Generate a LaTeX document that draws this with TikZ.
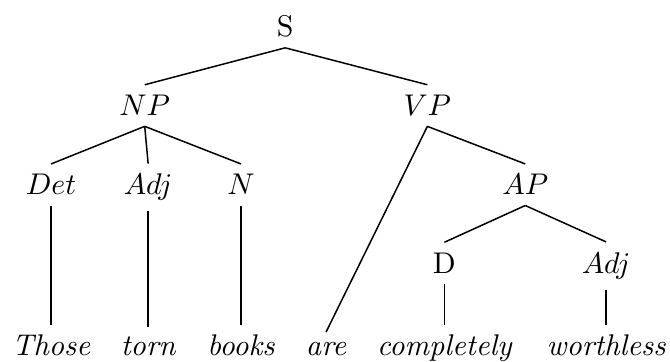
\documentclass[tikz,border=0pt]{standalone}
\usepackage{tikz}
\tikzset{
  cat/.style={anchor=base, inner sep=3.33pt},
  word/.style={anchor=base, inner sep=3.33pt, font=\itshape},
  branch/.style={line width=0.5pt, black},
}
\begin{document}
\begin{tikzpicture}
  \useasboundingbox (0,0) rectangle (7.87,-4.25);
  % Categories
  \node[cat] (s) at (3.35, -0.43) {S};
  \node[cat] (np) at (1.70, -1.36) {$NP$};
  \node[cat] (vp) at (5.02, -1.36) {$VP$};
  \node[cat] (det) at (0.60, -2.29) {$Det$};
  \node[cat] (adjA) at (1.74, -2.29) {$Adj$};
  \node[cat] (n) at (2.83, -2.29) {$N$};
  \node[cat] (ap) at (6.17, -2.29) {$AP$};
  \node[cat] (d) at (5.22, -3.21) {D};
  \node[cat] (adjB) at (7.12, -3.21) {$Adj$};

  % Words
  \node[word] (those) at (0.60, -4.18) {Those};
  \node[word] (torn) at (1.74, -4.18) {torn};
  \node[word] (books) at (2.83, -4.18) {books};
  \node[word] (are) at (3.83, -4.18) {are};
  \node[word] (completely) at (5.22, -4.18) {completely};
  \node[word] (worthless) at (7.12, -4.18) {worthless};

  % Branches
  \draw[branch] (s.south) -- (np.north);
  \draw[branch] (s.south) -- (vp.north);
  \draw[branch] (np.south) -- (det.north);
  \draw[branch] (np.south) -- (adjA.north);
  \draw[branch] (np.south) -- (n.north);
  \draw[branch] (vp.south) -- (are.north);
  \draw[branch] (vp.south) -- (ap.north);
  \draw[branch] (ap.south) -- (d.north);
  \draw[branch] (ap.south) -- (adjB.north);
  \draw[branch] (det.south) -- (those.north);
  \draw[branch] (adjA.south) -- (torn.north);
  \draw[branch] (n.south) -- (books.north);
  \draw[branch] (d.south) -- (completely.north);
  \draw[branch] (adjB.south) -- (worthless.north);
\end{tikzpicture}
\end{document}
